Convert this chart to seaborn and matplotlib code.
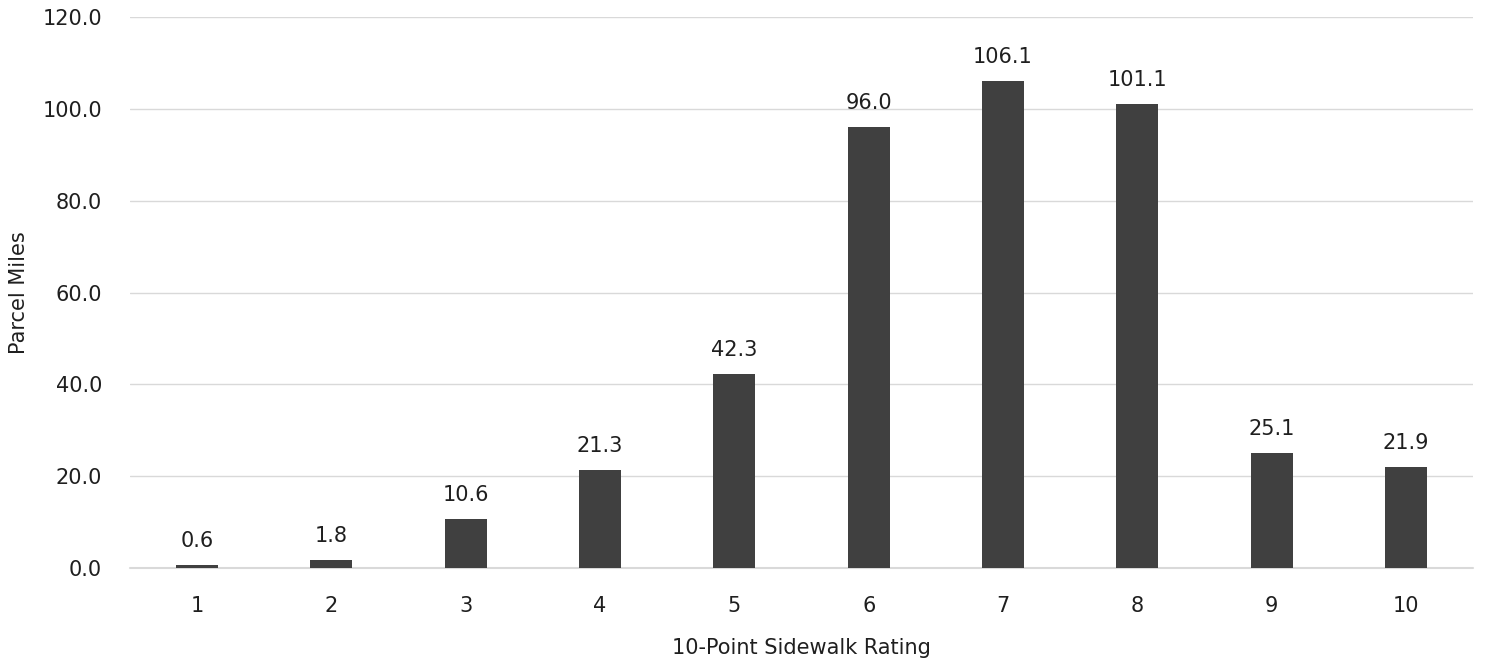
import matplotlib
matplotlib.use("Agg")
import matplotlib.pyplot as plt
import seaborn as sns
import pandas as pd

ratings = ["1", "2", "3", "4", "5", "6", "7", "8", "9", "10"]
parcel_miles = [0.6, 1.8, 10.6, 21.3, 42.3, 96.0, 106.1, 101.1, 25.1, 21.9]
y_ticks = [0, 20, 40, 60, 80, 100, 120]

sns.set_theme(style="white")
plt.rcParams["font.family"] = ["DejaVu Sans"]
text_color = "#1f1f1f"
grid_color = "#d9d9d9"

df = pd.DataFrame({"rating": ratings, "miles": parcel_miles})

fig = plt.figure(figsize=(14.85, 6.62), dpi=100)
ax = fig.add_axes([0.0875, 0.142, 0.9045, 0.832])

sns.barplot(data=df, x="rating", y="miles", color="#404040", saturation=1,
            width=0.313, linewidth=0, ax=ax, zorder=3)

ax.set_ylim(0, 120)
ax.set_yticks(y_ticks)
ax.set_yticklabels([f"{v:.1f}" for v in y_ticks])
ax.yaxis.grid(True, color=grid_color, linewidth=1.0, zorder=0)
ax.set_axisbelow(True)
# baseline stays fully visible at the bottom edge of the axes
ax.axhline(0, color=grid_color, linewidth=1.5, zorder=2, clip_on=False)
for s in ax.spines.values():
    s.set_visible(False)
ax.tick_params(axis="both", length=0, labelsize=15, colors=text_color, pad=20)

for i, v in enumerate(parcel_miles):
    ax.annotate(f"{v:.1f}", xy=(i, v), xytext=(0, 18), textcoords="offset pixels",
                ha="center", va="baseline", fontsize=15, color=text_color)

ax.set_xlabel("10-Point Sidewalk Rating", fontsize=15, color=text_color, labelpad=16)
ax.set_ylabel("Parcel Miles", fontsize=15, color=text_color, labelpad=10)

fig.savefig("out.png", dpi=100)
